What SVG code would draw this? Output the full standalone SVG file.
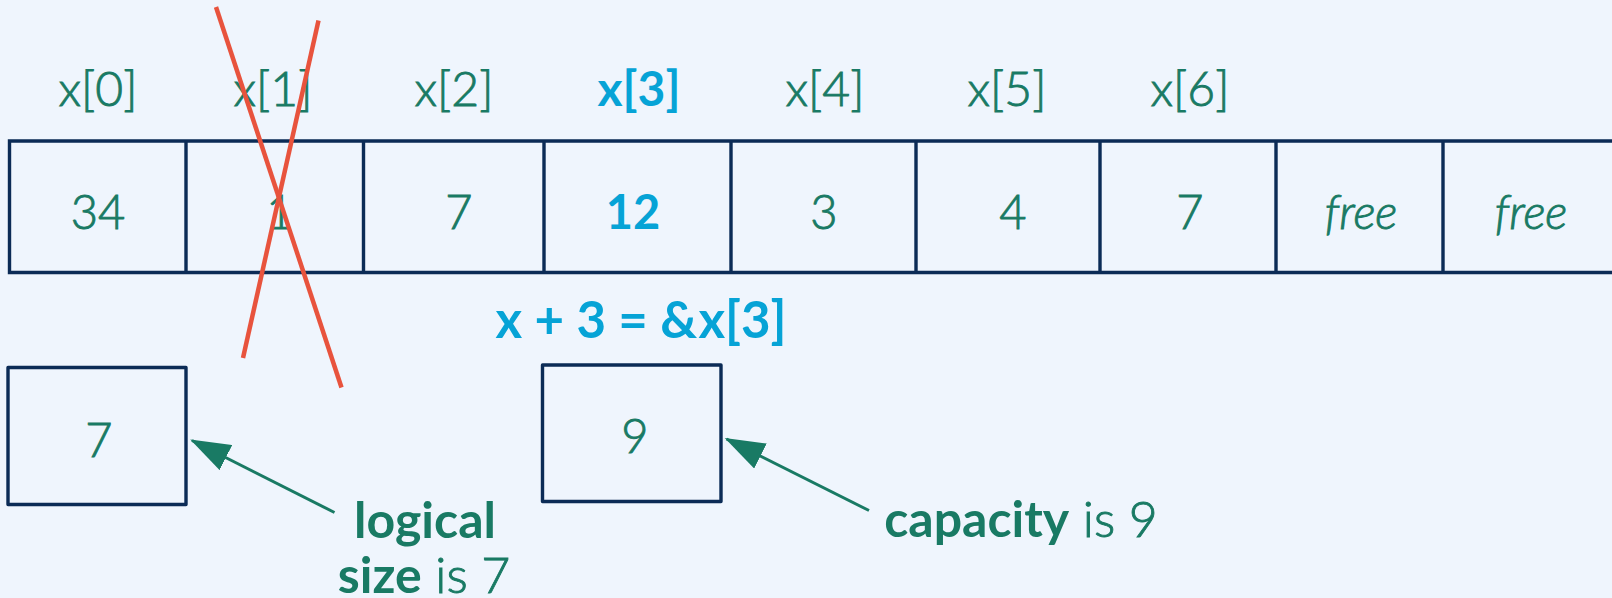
<svg xmlns="http://www.w3.org/2000/svg" width="1612" height="598" viewBox="0 0 1612 598">
  <style>
    .bg { fill: #EFF5FD; }
    .grid { stroke: #0B2B56; stroke-width: 3.4; fill: none; stroke-linecap: square; }
    .box { stroke: #0B2B56; stroke-width: 3.4; fill: none; stroke-linejoin: round; }
    .t { font-family: Lato, "Noto Sans", "Liberation Sans", sans-serif; fill: #197A64; text-anchor: middle; font-weight: 300; stroke: #197A64; stroke-width: 0.9; }
    .lbl { font-size: 48px; }
    .val { font-size: 47px; }
    .hi { fill: #06A3D6; stroke: none; font-weight: bold; }
    .it { font-style: italic; }
    .note { font-size: 50px; }
    .b { font-weight: bold; stroke: none; }
    .cross { stroke: #E8533D; stroke-width: 4.5; fill: none; }
    .ptr { stroke: #197A64; stroke-width: 3; fill: none; }
  </style>
  <defs>
    <marker id="head" viewBox="0 0 40 28" refX="38" refY="14" markerWidth="40" markerHeight="28" markerUnits="userSpaceOnUse" orient="auto">
      <path d="M0,0 L40,14 L0,28 Z" fill="#197A64"/>
    </marker>
  </defs>

  <rect class="bg" x="0" y="0" width="1612" height="598"/>

  <!-- array strip: open on the right, cells continue -->
  <g id="array">
    <path class="grid" d="M9.5,141 H1612 M9.5,272.5 H1612 M9.5,141 V272.5 M186,141 V272.5 M363.5,141 V272.5 M544,141 V272.5 M731,141 V272.5 M916,141 V272.5 M1100,141 V272.5 M1276,141 V272.5 M1443,141 V272.5"/>
  </g>

  <!-- index labels -->
  <g id="index-labels">
    <text class="t lbl" x="98" y="106">x[0]</text>
    <text class="t lbl" x="273" y="106">x[1]</text>
    <text class="t lbl" x="454" y="106">x[2]</text>
    <text class="t lbl hi" x="639" y="106">x[3]</text>
    <text class="t lbl" x="825" y="106">x[4]</text>
    <text class="t lbl" x="1007" y="106">x[5]</text>
    <text class="t lbl" x="1190" y="106">x[6]</text>
  </g>

  <!-- cell values -->
  <g id="cells">
    <g id="cell0"><text class="t val" x="98" y="229">34</text></g>
    <g id="cell1"><text class="t val" x="280" y="229">1</text></g>
    <g id="cell2"><text class="t val" x="459" y="229">7</text></g>
    <g id="cell3"><text class="t val hi" x="633" y="229">12</text></g>
    <g id="cell4"><text class="t val" x="824" y="229">3</text></g>
    <g id="cell5"><text class="t val" x="1013" y="229">4</text></g>
    <g id="cell6"><text class="t val" x="1190" y="229">7</text></g>
    <g id="cell7"><text class="t val it" x="1361" y="229">free</text></g>
    <g id="cell8"><text class="t val it" x="1531" y="229">free</text></g>
  </g>

  <!-- removed element x[1] -->
  <g id="strike">
    <line class="cross" x1="216" y1="7" x2="341.5" y2="387.5"/>
    <line class="cross" x1="318.5" y1="20.5" x2="243" y2="358"/>
  </g>

  <!-- pointer expression -->
  <g id="pointer-label">
    <text class="t hi" style="font-size:51px" x="641" y="338">x + 3 = &amp;x[3]</text>
  </g>

  <!-- size box -->
  <g id="size-box">
    <rect class="box" x="8" y="367.5" width="178" height="137"/>
    <text class="t val" x="99" y="457">7</text>
  </g>

  <!-- capacity box -->
  <g id="capacity-box">
    <rect class="box" x="542.5" y="365" width="178.5" height="136.5"/>
    <text class="t val" x="635" y="453">9</text>
  </g>

  <!-- annotations -->
  <g id="size-note">
    <text class="t note b" x="425" y="538">logical</text>
    <text class="t note" x="424" y="593"><tspan class="b">size</tspan> is 7</text>
  </g>
  <g id="capacity-note">
    <text class="t note" x="1021" y="537"><tspan class="b">capacity</tspan> is 9</text>
  </g>

  <g id="connectors">
    <line class="ptr" x1="334.5" y1="512.5" x2="192" y2="440.5" marker-end="url(#head)"/>
    <line class="ptr" x1="869" y1="510.5" x2="726.5" y2="439" marker-end="url(#head)"/>
  </g>
</svg>
